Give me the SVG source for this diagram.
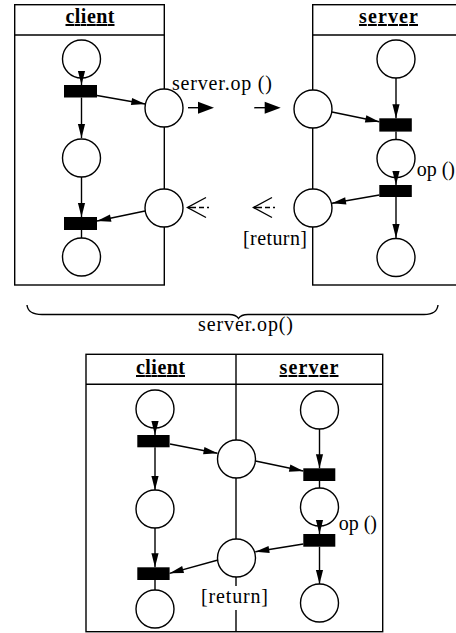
<svg xmlns="http://www.w3.org/2000/svg" width="456" height="633" viewBox="0 0 456 633">
<style>
.box{fill:none;stroke:#000;stroke-width:1.4}
.pl{fill:#fff;stroke:#000;stroke-width:1.4}
.tr{fill:#000}
.ln{fill:none;stroke:#000;stroke-width:1.4}
.ar{fill:none;stroke:#000;stroke-width:1.4;marker-end:url(#ah)}
.t{font-family:'Liberation Serif','Times New Roman',serif;font-size:20px;fill:#000}
.h{font-family:'Liberation Serif','Times New Roman',serif;font-size:20px;font-weight:bold;fill:#000;text-decoration:underline}
</style>
<defs>
<marker id="ah" markerUnits="userSpaceOnUse" markerWidth="14" markerHeight="8" refX="14" refY="4" orient="auto" overflow="visible"><path d="M0,0.4 L14,4 L0,7.6 z" fill="#000"/></marker>
</defs>

<g id="client-top">
<rect class="box" x="14.7" y="4.7" width="149.6" height="280.3"/>
<line class="ln" x1="14.7" y1="35" x2="164.3" y2="35"/>
<text class="h" x="90" y="23" text-anchor="middle" textLength="49">client</text>
<circle class="pl" cx="81.5" cy="59" r="19"/>
<rect class="tr" x="64" y="85" width="33" height="12.5"/>
<circle class="pl" cx="81.5" cy="158" r="19"/>
<rect class="tr" x="64" y="217" width="33" height="13"/>
<circle class="pl" cx="81.5" cy="257" r="19"/>
<circle class="pl" cx="164" cy="108" r="19"/>
<circle class="pl" cx="164" cy="208" r="19"/>
</g>

<g id="server-top">
<rect class="box" x="312.7" y="4.7" width="150" height="280.3"/>
<line class="ln" x1="312.7" y1="35" x2="456" y2="35"/>
<text class="h" x="388.5" y="23" text-anchor="middle" textLength="59">server</text>
<circle class="pl" cx="396" cy="59" r="19"/>
<rect class="tr" x="379.3" y="118.3" width="32.5" height="13.3"/>
<circle class="pl" cx="396" cy="158.5" r="19"/>
<rect class="tr" x="379.3" y="185" width="32.5" height="12"/>
<circle class="pl" cx="396" cy="257.5" r="19"/>
<circle class="pl" cx="313" cy="109" r="19"/>
<circle class="pl" cx="313" cy="208" r="19"/>
<text class="t" x="416.7" y="176">op ()</text>
</g>

<g id="message-top">
<text class="t" x="172" y="90" textLength="100">server.op ()</text>
<text class="t" x="243" y="245" textLength="64">[return]</text>
</g>

<g id="connectors-top">
<path class="ar" d="M81.5,72 L81.5,85"/>
<path class="ar" d="M81.5,97.5 L81.5,138"/>
<path class="ar" d="M81.5,177 L81.5,217"/>
<path class="ln" d="M81.5,230 L81.5,238"/>
<path class="ar" d="M97,95.5 L145.3,104"/>
<path class="ar" d="M145,211 L97,221"/>
<path class="ar" d="M396,78 L396,118.3"/>
<path class="ln" d="M396,131.6 L396,139.5"/>
<path class="ar" d="M396,172 L396,185"/>
<path class="ar" d="M396,197 L396,238"/>
<path class="ar" d="M332,112 L379.3,121.7"/>
<path class="ar" d="M379.3,195 L332,203.3"/>
<line class="ln" x1="188" y1="107.7" x2="200" y2="107.7"/>
<polygon class="tr" points="198,101.7 214,107.7 198,113.7"/>
<line class="ln" x1="254.3" y1="107.7" x2="266" y2="107.7"/>
<polygon class="tr" points="264.7,101.7 280.7,107.7 264.7,113.7"/>
<line class="ln" x1="188" y1="207.5" x2="215" y2="207.5" stroke-dasharray="8,3,5,3,2"/>
<polyline class="ln" points="206,197.5 187.5,207.5 206,217.5"/>
<line class="ln" x1="254" y1="207.5" x2="281" y2="207.5" stroke-dasharray="8,3,5,3,2"/>
<polyline class="ln" points="272,197.5 253.5,207.5 272,217.5"/>
</g>

<g id="brace">
<path class="ln" d="M27,305 Q28,314.5 42,314.5 L229,314.5 Q236,314.5 238.5,318.5 Q241,314.5 248,314.5 L424,314.5 Q437,314.5 438,305"/>
<text class="t" x="198" y="331" textLength="95">server.op()</text>
</g>

<g id="combined">
<rect class="box" x="86" y="354.3" width="296.7" height="277.4"/>
<line class="ln" x1="86" y1="384.3" x2="382.7" y2="384.3"/>
<line class="ln" x1="236" y1="354.3" x2="236" y2="631.7"/>
<text class="h" x="160.5" y="374" text-anchor="middle" textLength="49">client</text>
<text class="h" x="309" y="374" text-anchor="middle" textLength="59">server</text>
</g>

<g id="client-bottom">
<circle class="pl" cx="155" cy="409" r="19"/>
<rect class="tr" x="137.3" y="435" width="32.3" height="12.3"/>
<circle class="pl" cx="155" cy="509" r="19"/>
<rect class="tr" x="137.3" y="567.3" width="32.3" height="12.7"/>
<circle class="pl" cx="155" cy="609" r="19"/>
</g>

<g id="middle-bottom">
<circle class="pl" cx="236.5" cy="459" r="19"/>
<circle class="pl" cx="236.5" cy="558" r="19"/>
<rect x="200" y="586" width="70" height="24" fill="#fff"/>
<text class="t" x="201" y="603" textLength="67">[return]</text>
</g>

<g id="server-bottom">
<circle class="pl" cx="319.5" cy="410" r="19"/>
<rect class="tr" x="303.3" y="468.3" width="32" height="12.7"/>
<circle class="pl" cx="319.5" cy="507" r="19"/>
<rect class="tr" x="303.3" y="534" width="32" height="12.7"/>
<circle class="pl" cx="319.5" cy="603" r="19"/>
<text class="t" x="338.7" y="530">op ()</text>
</g>

<g id="connectors-bottom">
<path class="ar" d="M155,422 L155,435"/>
<path class="ar" d="M155,447.3 L155,490"/>
<path class="ar" d="M155,528 L155,567.3"/>
<path class="ln" d="M155,580 L155,590"/>
<path class="ar" d="M170,444 L217.5,453.3"/>
<path class="ar" d="M255.5,461 L303.3,471"/>
<path class="ar" d="M218,560 L169.6,573.3"/>
<path class="ar" d="M319.5,429 L319.5,468.3"/>
<path class="ln" d="M319.5,481 L319.5,488"/>
<path class="ar" d="M319.5,521 L319.5,534"/>
<path class="ar" d="M319.5,546.7 L319.5,584"/>
<path class="ar" d="M303.3,544 L255.3,551.7"/>
</g>
</svg>
